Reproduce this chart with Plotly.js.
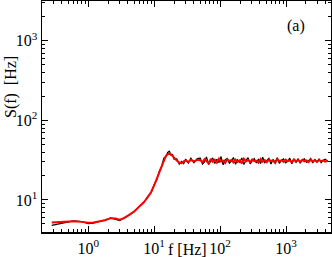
<!DOCTYPE html>
<html>
<head>
<meta charset="utf-8">
<script src="https://cdn.plot.ly/plotly-3.0.1.min.js"></script>
<style>
  html, body { margin: 0; padding: 0; background: #fff; }
  #plot { width: 332px; height: 257px; }
</style>
</head>
<body>
<div id="plot"></div>
<script>
// frequencies (Hz), shared by both spectra
const freq = [
  0.28, 0.35, 0.45, 0.6, 0.8, 1.0, 1.2, 1.4, 1.8, 2.2, 2.6, 3.0, 3.5, 4.2, 5.0, 6.0, 7.0, 8.0, 9.0, 10,
  11, 12, 13, 14, 15, 16, 17, 18, 19, 20, 22, 24, 26, 28, 30, 33, 36, 40, 45,
  50, 54, 58, 62, 67, 72, 77, 83, 89, 96, 103, 111, 119, 128, 138, 148, 159, 171, 184, 198,
  213, 229, 246, 265, 285, 306, 329, 354, 381, 410, 441, 474, 510, 548, 590, 634, 682, 734, 789, 849,
  913, 982, 1056, 1136, 1222, 1314, 1413, 1520, 1635, 1759, 1892, 2035, 2189, 2354, 2532, 2724, 2930,
  3151, 3390, 3646, 3922, 4300
];

// raw spectrum (black)
const sRaw = [
  4.8, 5.0, 5.2, 5.45, 5.35, 5.05, 5.1, 5.25, 5.6, 5.95, 5.7, 5.5, 5.95, 6.6, 7.1, 8.4, 9.3, 11.1, 12.3, 15.6,
  18.1, 23.2, 26.4, 33.5, 34.6, 39.5, 41, 36.5, 37.2, 32.5, 32.8, 28.2, 30.5, 28.6, 32.6, 29.1, 33.4, 29.3, 33.0,
  33.5, 28.2, 30.1, 34.6, 27.9, 31.2, 33.8, 28.6, 32.5, 29.4, 35.1, 27.6, 31.8, 33.2, 28.9, 30.7, 34.2, 28.1, 32.0,
  29.8, 33.6, 27.8, 31.5, 34.0, 28.4, 30.9, 33.1, 29.2, 32.6, 28.7, 34.4, 29.5, 31.1, 33.3, 28.3, 32.2, 29.9, 33.9,
  28.8, 31.4, 32.8, 29.3, 30.6, 33.5, 28.5, 32.4, 29.7, 33.0, 29.0, 31.7, 32.9, 29.6, 31.0, 33.2, 29.1, 32.3,
  30.2, 32.7, 29.4, 31.6, 32.5, 30.4
];

// fitted spectrum (red)
const sFit = [
  5.2, 5.28, 5.35, 5.4, 5.3, 5.15, 5.2, 5.3, 5.55, 5.9, 5.85, 5.65, 5.9, 6.5, 7.2, 8.3, 9.4, 10.8, 12.6, 15.2,
  18.5, 22.5, 27, 32, 35.5, 37.5, 38.5, 37.5, 35.5, 33.5, 31.2, 29.5, 29.0, 30.5, 31.2, 30.0, 31.8, 30.4, 32.0,
  31.5, 29.8, 32.4, 30.6, 28.9, 32.8, 30.2, 31.9, 29.5, 33.1, 30.4, 31.2, 29.1, 32.5, 30.8, 31.7, 29.6, 32.2, 30.1,
  31.4, 28.8, 32.9, 30.5, 31.8, 29.9, 32.3, 30.7, 31.1, 29.4, 32.6, 30.3, 31.6, 29.7, 32.0, 30.9, 31.3, 29.2, 32.7,
  30.6, 31.5, 30.0, 32.1, 30.8, 31.2, 29.8, 32.4, 30.4, 31.7, 30.2, 31.9, 30.6, 31.4, 29.9, 32.2, 30.5, 31.6,
  30.1, 31.8, 30.7, 31.3, 30.3, 31.0
];

const xTickVals = [1, 10, 100, 1000];
const xTickText = ['10<sup>0</sup>', '10<sup>1</sup>', '10<sup>2</sup>', '10<sup>3</sup>'];
const yTickVals = [10, 100, 1000];
const yTickText = ['10<sup>1</sup>', '10<sup>2</sup>', '10<sup>3</sup>'];

// minor ticks 2..9 in each decade
function minorVals(lo, hi) {
  const out = [];
  for (let d = lo; d <= hi; d++) {
    for (let m = 2; m <= 9; m++) out.push(m * Math.pow(10, d));
  }
  return out;
}

const serif = '"Liberation Serif", "Times New Roman", serif';

const traces = [
  {
    x: freq, y: sRaw, type: 'scatter', mode: 'lines',
    line: { color: '#000000', width: 1.2 }
  },
  {
    x: freq, y: sFit, type: 'scatter', mode: 'lines',
    line: { color: '#ff0000', width: 2 }
  }
];

const axisCommon = {
  type: 'log',
  tickmode: 'array',
  ticks: 'inside',
  ticklen: 6,
  tickwidth: 1,
  tickcolor: '#000',
  showline: true,
  linecolor: '#000',
  linewidth: 1.5,
  mirror: 'ticks',
  showgrid: false,
  zeroline: false,
  tickfont: { family: serif, size: 16, color: '#000' }
};

const layout = {
  width: 332,
  height: 257,
  margin: { l: 42, r: 1, t: 1, b: 25 },
  paper_bgcolor: '#fff',
  plot_bgcolor: '#fff',
  showlegend: false,
  xaxis: Object.assign({}, axisCommon, {
    range: [-0.70, 3.68],
    tickvals: xTickVals,
    ticktext: xTickText,
    ticklabelstandoff: 1,
    minor: { tickmode: 'array', tickvals: minorVals(-1, 3), ticks: 'inside', ticklen: 3, tickcolor: '#000', showgrid: false }
  }),
  yaxis: Object.assign({}, axisCommon, {
    range: [0.597, 3.5],
    tickvals: yTickVals,
    ticktext: yTickText,
    minor: { tickmode: 'array', tickvals: minorVals(0, 3), ticks: 'inside', ticklen: 3, tickcolor: '#000', showgrid: false }
  }),
  annotations: [
    {
      text: 'f [Hz]', xref: 'paper', yref: 'paper', x: 0.502, y: -0.075,
      xanchor: 'center', yanchor: 'middle',
      showarrow: false, font: { family: serif, size: 16, color: '#000' }
    },
    {
      text: 'S(f)  [Hz]', xref: 'paper', yref: 'paper', x: -0.107, y: 0.628,
      xanchor: 'center', yanchor: 'middle',
      textangle: -90, showarrow: false, font: { family: serif, size: 16, color: '#000' }
    },
    {
      text: '(a)', xref: 'paper', yref: 'paper', x: 0.879, y: 0.892,
      xanchor: 'center', yanchor: 'middle',
      showarrow: false, font: { family: serif, size: 16, color: '#000' }
    }
  ]
};

Plotly.newPlot('plot', traces, layout, { displayModeBar: false, staticPlot: true });
</script>
</body>
</html>
